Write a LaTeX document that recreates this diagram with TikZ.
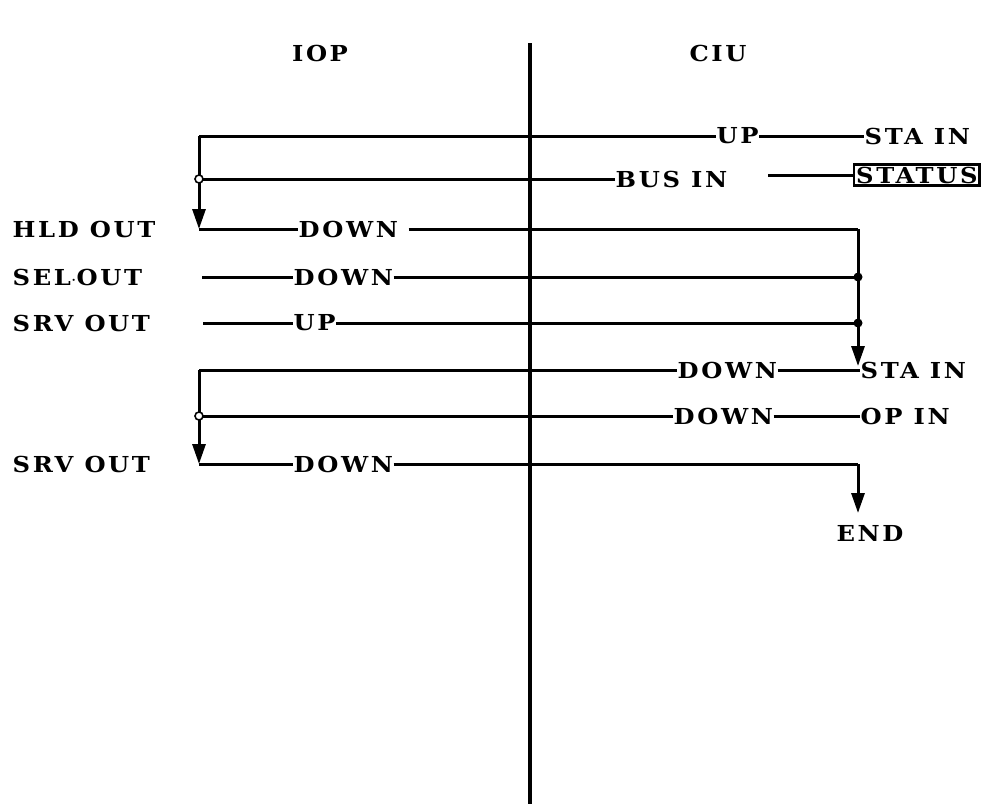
\documentclass[tikz,border=0pt]{standalone}
\usepackage{fontspec}
\setmainfont{DejaVu Serif}[LetterSpace=12,FakeStretch=1.1]
\usetikzlibrary{arrows.meta}
\begin{document}
\begin{tikzpicture}[x=1pt,y=-1pt,
  lbl/.style={inner sep=0.5pt,anchor=west,font=\fontsize{22}{26}\selectfont\bfseries},
  hdr/.style={inner sep=0pt,font=\fontsize{22}{26}\selectfont\bfseries},
  wire/.style={line width=3pt},
  arr/.style={wire,-{Triangle[length=20pt,width=13pt]}},
  hollow/.style={circle,draw,fill=white,line width=1.6pt,inner sep=0pt,minimum size=8pt},
  solid/.style={circle,fill=black,inner sep=0pt,minimum size=9pt}]
\useasboundingbox (0,0) rectangle (999,804);
% headers and centre line
\node[hdr] (iop) at (320,53) {IOP};
\node[hdr] (ciu) at (718,53) {CIU};
\coordinate (ctop) at (530,43);
\coordinate (cbot) at (530,804);
\draw[line width=3.2pt] (ctop) -- (cbot);
% row 1
\coordinate (a1) at (199,136);
\node[lbl] (up1) at (716,136) {UP};
\node[lbl] (sta1) at (864,136) {STA IN};
\draw[wire] (a1) -- (up1.west);
\draw[wire] (up1.east) -- (sta1.west);
% row 2
\coordinate (a2) at (199,179);
\node[lbl] (bus) at (615,179) {BUS IN};
\node[lbl,draw,line width=2.4pt,inner sep=2pt] (status) at (853,175) {STATUS};
\coordinate (s2) at (768,175);
\draw[wire] (a2) -- (bus.west);
\draw[wire] (s2) -- (status.west);
% row 3
\node[lbl] (hld) at (12,229) {HLD OUT};
\coordinate (a3) at (199,229);
\node[lbl] (d3) at (298,229) {DOWN};
\coordinate (r3) at (858,229);
\coordinate (r3s) at ([xshift=10pt]d3.east);
\draw[arr] (a1) -- (a3);
\draw[wire] (a3) -- (d3.west);
\draw[wire] (r3s) -- (r3);
% row 4
\node[lbl] (sel) at (12,277) {SEL$\cdot$OUT};
\coordinate (a4) at (202,277);
\node[lbl] (d4) at (293,277) {DOWN};
\coordinate (r4) at (858,277);
\draw[wire] (a4) -- (d4.west);
\draw[wire] (d4.east) -- (r4);
% row 5
\node[lbl] (srv1) at (12,323) {SRV OUT};
\coordinate (a5) at (203,323);
\node[lbl] (up5) at (293,323) {UP};
\coordinate (r5) at (858,323);
\draw[wire] (a5) -- (up5.west);
\draw[wire] (up5.east) -- (r5);
% row 6
\coordinate (b1) at (199,370);
\node[lbl] (d6) at (677,370) {DOWN};
\node[lbl] (sta2) at (860,370) {STA IN};
\draw[wire] (b1) -- (d6.west);
\draw[wire] (d6.east) -- (sta2.west);
\coordinate (r6) at (858,366);
\draw[arr] (r3) -- (r6);
% row 7
\coordinate (b2) at (199,416);
\node[lbl] (d7) at (673,416) {DOWN};
\node[lbl] (op) at (860,416) {OP IN};
\draw[wire] (b2) -- (d7.west);
\draw[wire] (d7.east) -- (op.west);
% row 8
\node[lbl] (srv2) at (12,464) {SRV OUT};
\coordinate (b3) at (199,464);
\node[lbl] (d8) at (293,464) {DOWN};
\coordinate (r8) at (858,464);
\draw[arr] (b1) -- (b3);
\draw[wire] (b3) -- (d8.west);
\draw[wire] (d8.east) -- (r8);
\node[hdr] (end) at (870,533) {END};
\coordinate (r9) at (858,513);
\draw[arr] (r8) -- (r9);
% junctions
\node[hollow] at (a2) {};
\node[hollow] at (b2) {};
\node[solid] at (r4) {};
\node[solid] at (r5) {};
\end{tikzpicture}
\end{document}
